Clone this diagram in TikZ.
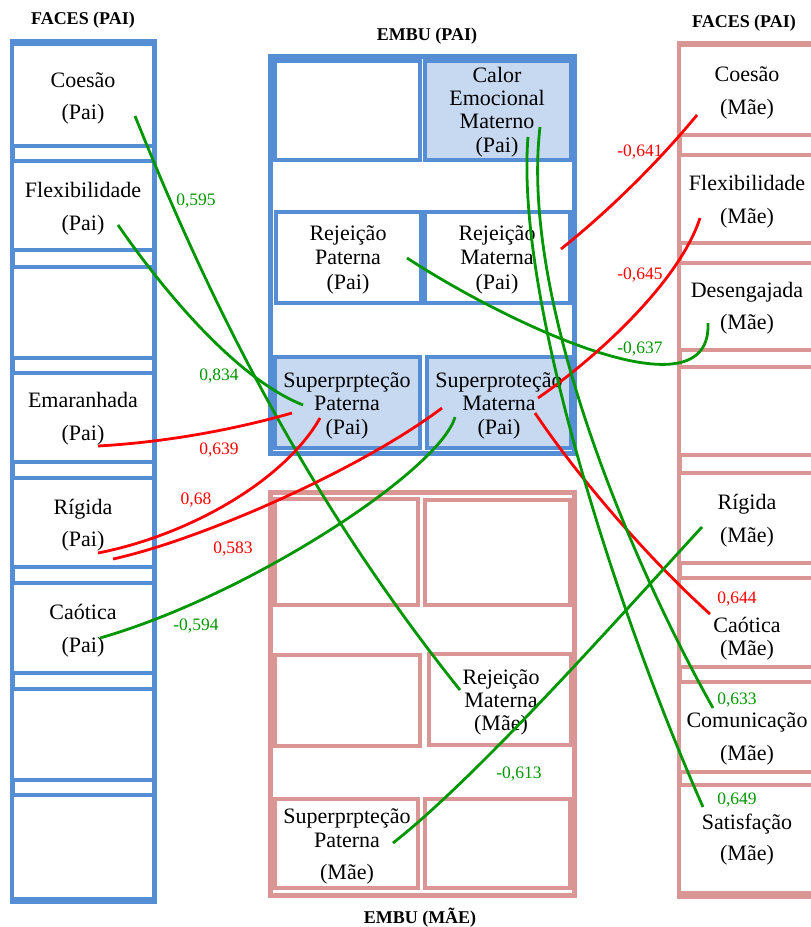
\documentclass[tikz,border=0pt]{standalone}
\usepackage{fontspec}
\setmainfont{Liberation Serif}
\usetikzlibrary{calc}
\definecolor{frameblue}{RGB}{85,142,213}
\definecolor{fillblue}{RGB}{198,217,241}
\definecolor{framepink}{RGB}{217,150,148}
\definecolor{linkgreen}{RGB}{0,150,0}
\definecolor{linkred}{RGB}{255,0,0}
\begin{document}
\begin{tikzpicture}[x=1pt,y=-1pt,
  bluebox/.style={draw=frameblue,line width=4.5pt,fill=white},
  bluefill/.style={draw=frameblue,line width=4.5pt,fill=fillblue},
  pinkbox/.style={draw=framepink,line width=4.5pt,fill=white},
  blueframe/.style={draw=frameblue,line width=5pt},
  pinkframe/.style={draw=framepink,line width=5pt},
  txt/.style={font=\fontsize{22}{#1}\selectfont,align=center,inner sep=0pt},
  heading/.style={font=\fontsize{18}{20}\selectfont\bfseries,inner sep=0pt},
  val/.style={font=\fontsize{17.5}{20}\selectfont,inner sep=0pt},
  poslink/.style={linkgreen,line width=2.8pt},
  neglink/.style={linkred,line width=2.8pt}]
\useasboundingbox (0,0) rectangle (811,927);
\clip (0,0) rectangle (811,927);
\fill[white] (0,0) rectangle (811,927);

% ---------- FACES (father), left column ----------
\path[blueframe] (12,41) rectangle (154,901);
\foreach \t/\b in {44/146,161/250,267/358,373/462,478/567,583/673,689/780,795/899}{
  \path[bluebox] (12,\t) rectangle (154,\b);
}

% ---------- FACES (mother), right column ----------
\path[pinkframe] (679,43) rectangle (830,896);
\foreach \t/\b in {45/135,155/243,263/350,367/455,473/563,578/667,682/772,785/893}{
  \path[pinkbox] (679,\t) rectangle (830,\b);
}

% ---------- EMBU (father), top middle ----------
\path[blueframe] (270.5,56) rectangle (574,453.5);
\path[bluebox]  (275,61)  rectangle (420,160);
\path[bluefill] (425,61)  rectangle (571,160);
\path[bluebox]  (276,212) rectangle (421,303);
\path[bluebox]  (425,212) rectangle (570,303);
\path[bluefill] (275,357) rectangle (420,448);
\path[bluefill] (427,357) rectangle (571,448);

% ---------- EMBU (mother), bottom middle ----------
\path[pinkframe] (270,492.5) rectangle (574,895);
\path[pinkbox] (275,499) rectangle (418,605);
\path[pinkbox] (425,500) rectangle (570,605);
\path[pinkbox] (275,655) rectangle (420,746);
\path[pinkbox] (429,654) rectangle (571,745);
\path[pinkbox] (275,799) rectangle (418,888);
\path[pinkbox] (425,799) rectangle (570,888);

% ---------- titles ----------
\node[heading] (tfp) at (83,20) {FACES (PAI)};
\node[heading] (tep) at (427,36) {EMBU (PAI)};
\node[heading] (tfm) at (744,23) {FACES (PAI)};
\node[heading] (tem) at (420,918) {EMBU (MÃE)};

% ---------- labels of the left column ----------
\node[txt=32] (coesP) at (83,98) {Coesão\\(Pai)};
\node[txt=33] (flexP) at (83,208.5) {Flexibilidade\\(Pai)};
\node[txt=33] (emarP) at (83,418.5) {Emaranhada\\(Pai)};
\node[txt=32] (rigP)  at (83,525) {Rígida\\(Pai)};
\node[txt=33] (caoP)  at (83,630.5) {Caótica\\(Pai)};

% ---------- labels of the EMBU (father) cells ----------
\node[txt=23.3] (calor) at (497,112) {Calor\\Emocional\\Materno\\(Pai)};
\node[txt=24.5] (rejPP) at (348,259.5) {Rejeição\\Paterna\\(Pai)};
\node[txt=24.5] (rejMP) at (497,259.5) {Rejeição\\Materna\\(Pai)};
\node[txt=23.5] (supPP) at (347,405.5) {Superprpteção\\Paterna\\(Pai)};
\node[txt=23.5] (supMP) at (499,405.5) {Superproteção\\Materna\\(Pai)};

% ---------- labels of the EMBU (mother) cells ----------
\node[txt=23] (rejMM) at (501,702) {Rejeição\\Materna\\(Mãe)};
\node[txt=24] (supPM) at (347,846) {Superprpteção\\Paterna\\[8pt](Mãe)};

% ---------- labels of the right column ----------
\node[txt=33] (coesM) at (747,92.5) {Coesão\\(Mãe)};
\node[txt=33] (flexM) at (747,202) {Flexibilidade\\(Mãe)};
\node[txt=32] (desM)  at (747,308) {Desengajada\\(Mãe)};
\node[txt=33] (rigM)  at (747,520.5) {Rígida\\(Mãe)};
\node[txt=23] (caoM)  at (747,638.5) {Caótica\\(Mãe)};
\node[txt=33] (comM)  at (747,738.5) {Comunicação\\(Mãe)};
\node[txt=31] (satM)  at (747,839.5) {Satisfação\\(Mãe)};

% ---------- end points of the correlation links ----------
\coordinate (a1) at (135,116);  \coordinate (b1) at (460,690);
\coordinate (a2) at (118,225);  \coordinate (b2) at (303,405);
\coordinate (a3) at (98,446);   \coordinate (b3) at (292,413);
\coordinate (a4) at (98,553);   \coordinate (b4) at (320,418);
\coordinate (a5) at (113,559);  \coordinate (b5) at (442,408);
\coordinate (a6) at (100,638);  \coordinate (b6) at (455,417);
\coordinate (a7) at (407,258);  \coordinate (b7) at (708,323);
\coordinate (a8) at (561,249);  \coordinate (b8) at (697,115);
\coordinate (a9) at (538,398);  \coordinate (b9) at (700,218);
\coordinate (a10) at (535,413); \coordinate (b10) at (710,614);
\coordinate (a11) at (540,127); \coordinate (b11) at (713,708);
\coordinate (a12) at (528,137); \coordinate (b12) at (703,807);
\coordinate (a13) at (393,843); \coordinate (b13) at (702,527);

% ---------- correlation links ----------
\draw[poslink] (a1) .. controls (205,290) and (300,490) .. (b1);
\draw[poslink] (a2) .. controls (170,300) and (240,380) .. (b2);
\draw[neglink] (a3) .. controls (170,442) and (240,428) .. (b3);
\draw[neglink] (a4) .. controls (190,535) and (285,480) .. (b4);
\draw[neglink] (a5) .. controls (200,540) and (360,470) .. (b5);
\draw[poslink] (a6) .. controls (250,595) and (440,470) .. (b6);
\draw[poslink] (a7) .. controls (510,325) and (712,420) .. (b7);
\draw[neglink] (a8) .. controls (610,210) and (660,160) .. (b8);
\draw[neglink] (a9) .. controls (600,355) and (680,280) .. (b9);
\draw[neglink] (a10) .. controls (580,480) and (650,560) .. (b10);
\draw[poslink] (a11) .. controls (520,300) and (630,560) .. (b11);
\draw[poslink] (a12) .. controls (515,300) and (620,620) .. (b12);
\draw[poslink] (a13) .. controls (480,775) and (630,605) .. (b13);

% ---------- correlation values ----------
\node[val,linkgreen] (v1) at (196,201) {0,595};
\node[val,linkgreen] (v2) at (219,376) {0,834};
\node[val,linkred]   (v3) at (219,450) {0,639};
\node[val,linkred]   (v4) at (196,500) {0,68};
\node[val,linkred]   (v5) at (233,549) {0,583};
\node[val,linkgreen] (v6) at (196,626) {-0,594};
\node[val,linkgreen] (v7) at (640,349) {-0,637};
\node[val,linkred]   (v8) at (640,152) {-0,641};
\node[val,linkred]   (v9) at (640,275) {-0,645};
\node[val,linkred]   (v10) at (737,599) {0,644};
\node[val,linkgreen] (v11) at (737,700) {0,633};
\node[val,linkgreen] (v12) at (737,800) {0,649};
\node[val,linkgreen] (v13) at (519,774) {-0,613};
\end{tikzpicture}
\end{document}
